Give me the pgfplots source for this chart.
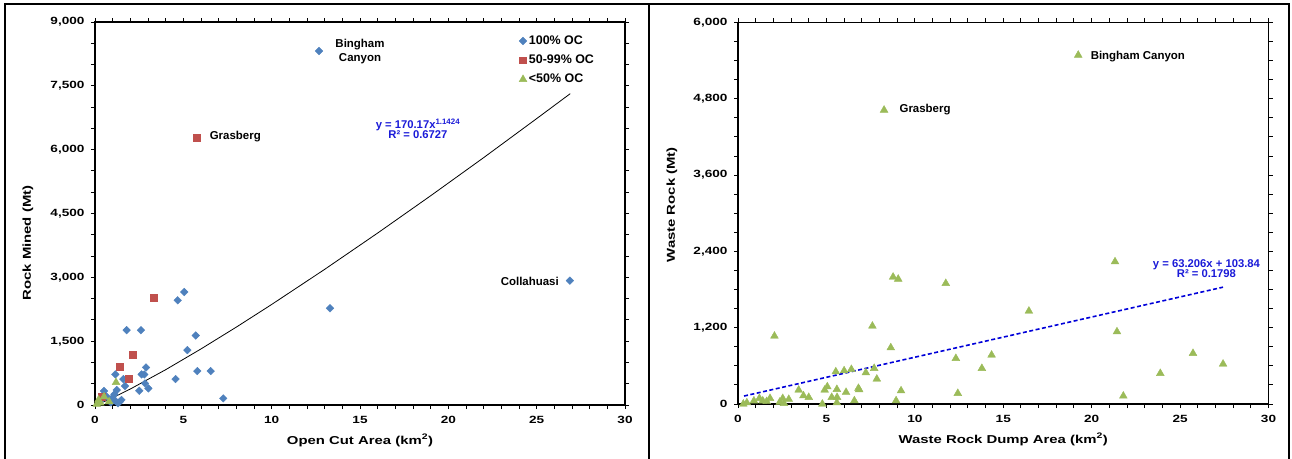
\documentclass[border=0pt]{standalone}
\usepackage{fontspec}
\setmainfont{Liberation Sans}
\newfontfamily\widefont{Liberation Sans}[FakeStretch=1.3]
\usepackage{pgfplots}
\pgfplotsset{compat=1.18}
\definecolor{cblue}{HTML}{4F81BD}
\definecolor{cred}{HTML}{C0504D}
\definecolor{cgreen}{HTML}{9BBB59}
\definecolor{eqblue}{HTML}{1A1AD8}
\newcommand{\tk}{\widefont\fontsize{10.5}{12}\selectfont\bfseries}
\newcommand{\ttl}{\widefont\fontsize{11.5}{14}\selectfont\bfseries}
\newcommand{\lb}{\fontsize{11.5}{14}\selectfont\bfseries}
\newcommand{\lgd}{\fontsize{12.5}{14}\selectfont\bfseries}
\newcommand{\eq}{\fontsize{11.3}{13}\selectfont\bfseries}
\pgfplotsset{
  myaxis/.style={
    scale only axis,
    xmin=0,xmax=30,
    xtick={0,5,...,30},
    minor x tick num=4,
    tick align=outside,
    major tick length=4bp, minor tick length=4bp,
    axis line style={line width=1.5bp},
    every tick/.style={black,line width=1bp},
    every minor tick/.style={black,line width=1bp},
    tick label style={font=\tk},
    xticklabel style={yshift=-4bp},
    yticklabel style={xshift=-3bp},
    label style={font=\ttl},
    xlabel style={at={(axis description cs:0.5,0)}, anchor=base, yshift=-39bp},
    /pgf/number format/assume math mode=true,
    /pgf/number format/1000 sep={,},
    scaled ticks=false,
    clip=false,
  }
}
\begin{document}
\begin{tikzpicture}
\path[use as bounding box] (0bp,0bp) rectangle (1292bp,459bp);
% ---------------- left panel ----------------
\begin{axis}[myaxis,
  at={(95bp,54bp)}, anchor=south west,
  width=530bp, height=383bp,
  ymin=0, ymax=9000,
  ytick={0,1500,...,9000},
  minor y tick num=2,
  xlabel={Open Cut Area (km\textsuperscript{2})},
  ylabel={Rock Mined (Mt)},
  ylabel style={at={(axis description cs:-0.1264,0.423)}, anchor=center},
  legend style={draw=none, fill=none, at={(rel axis cs:0.798,0.972)}, anchor=north west,
    font=\lgd, row sep=5bp, inner sep=1bp},
  legend cell align=left,
  legend image code/.code={\draw[mark repeat=2,mark phase=2] plot coordinates {(0cm,0cm)(0.12cm,0cm)(0.24cm,0cm)};},
]
\addplot[only marks, mark=square*, mark size=2.7bp, mark options={rotate=45, fill=cblue, draw=cblue}] coordinates {
(12.68,8320) (26.88,2922) (13.3,2273) (5.05,2655) (4.68,2460) (1.79,1758) (2.6,1758)
(5.7,1633) (5.23,1289) (2.89,883) (1.15,719) (2.64,719) (2.79,719) (5.79,797) (6.55,797)
(4.56,609) (1.6,609) (1.7,445) (2.83,508) (3.02,390) (2.51,335) (7.26,156) (0.51,328)
(1.23,352) (1.1,250) (0.96,160) (1.41,78) (1.3,40) (0.65,200) (0.3,100) (1.5,120)
(0.9,60) (1.15,100)
};
\addlegendentry{100\% OC}
\addplot[only marks, mark=square*, mark size=3.4bp, mark options={fill=cred, draw=cred}] coordinates {
(5.77,6281) (3.3,2523) (2.13,1180) (1.38,898) (1.89,609) (0.38,195)
};
\addlegendentry{50-99\% OC}
\addplot[only marks, mark=triangle*, mark size=4.5bp, mark options={fill=cgreen, draw=cgreen}] coordinates {
(1.19,531) (0.51,195) (0.1,20) (0.8,80) (0.3,50) (0.2,120)
};
\addlegendentry{<50\% OC}
\addplot[black, line width=0.8bp, forget plot] coordinates {
(0.1,12.2) (0.5,77.1) (1,170.2) (2,375.6) (4,829.3) (6,1317.8) (8,1830.5) (10,2362.3)
(13,3187.8) (16,4041.0) (19,4917.1) (22,5813) (25,6730) (26.9,7316)
};
\node[font=\lb, align=center] at (axis cs:15.0,8305) {Bingham\\[0bp]Canyon};
\node[font=\lb, anchor=west] at (axis cs:6.3,6297) {Grasberg};
\node[font=\lb, anchor=east] at (axis cs:26.45,2914) {Collahuasi};
\node[font=\eq, text=eqblue, align=center] at (axis cs:18.28,6485) {y = 170.17x\textsuperscript{1.1424}\\[-3bp]R² = 0.6727};
\end{axis}
% ---------------- right panel ----------------
\begin{axis}[myaxis,
  at={(738bp,55bp)}, anchor=south west,
  width=530.5bp, height=381.5bp,
  ymin=0, ymax=6000,
  ytick={0,1200,...,6000},
  minor y tick num=3,
  xlabel={Waste Rock Dump Area (km\textsuperscript{2})},
  ylabel={Waste Rock (Mt)},
  ylabel style={at={(axis description cs:-0.1244,0.522)}, anchor=center},
]
\addplot[only marks, mark=triangle*, mark size=4.5bp, mark options={fill=cgreen, draw=cgreen}] coordinates {
(19.24,5487) (8.26,4623) (8.77,1997) (9.06,1965) (21.32,2238) (11.75,1897) (16.45,1462)
(7.6,1226) (21.43,1137) (2.06,1069) (8.64,886) (25.73,797) (14.34,770) (12.32,718)
(27.43,629) (13.79,561) (7.7,561) (6.41,545) (6.0,524) (5.53,508) (7.23,492) (23.88,482)
(7.85,393) (5.05,272) (6.81,247) (6.85,225) (5.59,231) (4.9,220) (3.43,220) (9.22,209)
(6.11,184) (12.43,168) (3.7,131) (21.79,126) (5.3,105) (5.6,105) (4.0,105) (1.81,89)
(1.21,89) (2.53,88) (2.87,74) (6.58,52) (8.94,52) (0.9,50) (1.62,40) (1.4,50) (2.36,30)
(5.59,20) (0.5,20) (2.6,10) (4.77,0) (0.3,0)
};
\addplot[blue!85!black, line width=1.6bp, dash pattern=on 4bp off 2.5bp] coordinates {
(0.34,125.3) (27.43,1837.6)
};
\node[font=\lb, anchor=west] at (axis cs:8.94,4623) {Grasberg};
\node[font=\lb, anchor=west] at (axis cs:19.75,5472) {Bingham Canyon};
\node[font=\eq, text=eqblue, align=center] at (axis cs:26.49,2123) {y = 63.206x + 103.84\\[-3bp]R² = 0.1798};
\end{axis}
% ---------------- frames ----------------
\draw[line width=1.5bp] (5bp,0bp) -- (5bp,455bp) -- (1289bp,455bp) -- (1289bp,0bp);
\draw[line width=1.5bp] (649bp,0bp) -- (649bp,455bp);
\end{tikzpicture}
\end{document}
